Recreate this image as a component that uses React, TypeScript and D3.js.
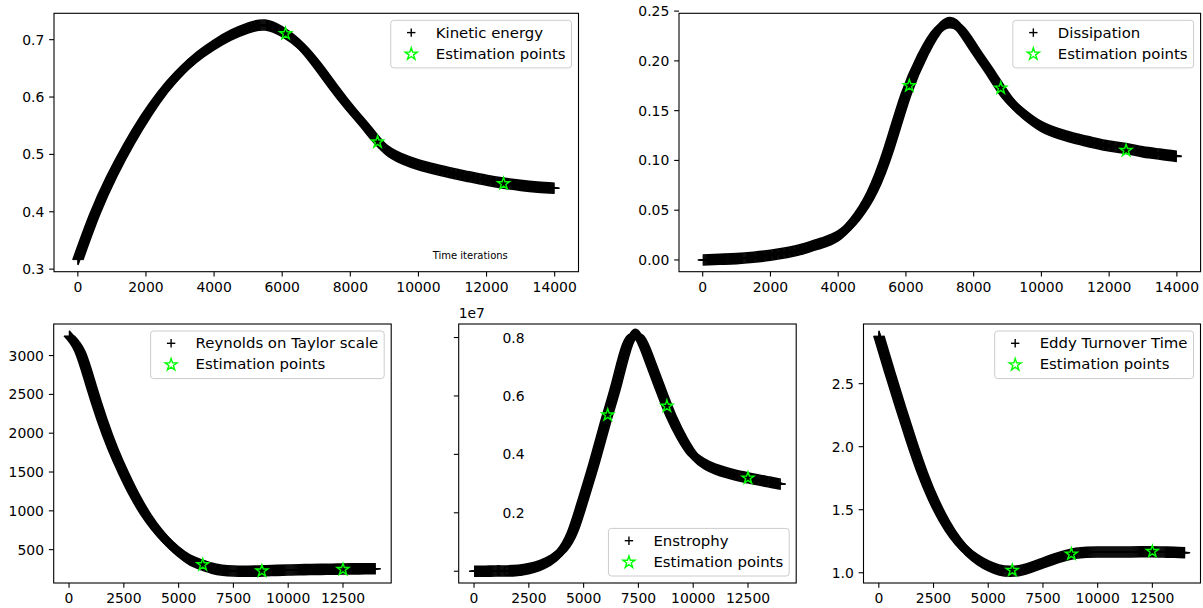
import React from 'react';
import * as d3 from 'd3';

// ---------------- data ----------------
const iterations = [
  0, 500, 1000, 1500, 2000, 2500, 3000, 3500, 4000, 4500, 5000, 5500, 6000, 6500, 7000,
  7500, 8000, 8500, 9000, 9500, 10000, 10500, 11000, 11500, 12000, 12500, 13000, 13500, 14000,
];
const kineticEnergy = [
  0.316, 0.396, 0.462, 0.518, 0.567, 0.609, 0.643, 0.67, 0.691, 0.708, 0.7205, 0.7255, 0.714, 0.692, 0.658,
  0.618, 0.58, 0.545, 0.511, 0.493, 0.482, 0.474, 0.467, 0.461, 0.455, 0.45, 0.446, 0.443, 0.441,
];
const dissipation = [
  0.0, 0.0007, 0.0013, 0.0027, 0.0047, 0.0074, 0.0115, 0.0169, 0.0243, 0.041, 0.068, 0.112, 0.166, 0.206, 0.233,
  0.236, 0.213, 0.188, 0.1626, 0.146, 0.134, 0.127, 0.122, 0.118, 0.1144, 0.112, 0.1086, 0.1063, 0.104,
];
const reynoldsTaylor = [
  3255, 3050, 2620, 2180, 1800, 1480, 1195, 955, 760, 600, 470, 370, 310, 262, 235,
  225, 222, 223, 228, 233, 238, 241, 244, 246, 248, 250, 252, 253, 254,
];
const enstrophy = [
  0, 0, 1e4, 1e4, 3e4, 9e4, 2e5, 3.8e5, 7e5, 1.35e6, 2.5e6, 3.75e6, 5.1e6, 6.4e6, 7.75e6,
  8.06e6, 7.25e6, 6.25e6, 5.3e6, 4.55e6, 3.98e6, 3.68e6, 3.5e6, 3.38e6, 3.28e6, 3.2e6, 3.12e6, 3.05e6, 2.98e6,
];
const eddyTurnover = [
  2.88, 2.59, 2.31, 2.04, 1.79, 1.58, 1.41, 1.275, 1.175, 1.105, 1.055, 1.022, 1.012, 1.02, 1.045,
  1.077, 1.108, 1.135, 1.155, 1.163, 1.165, 1.165, 1.165, 1.165, 1.166, 1.166, 1.164, 1.162, 1.158,
];

const estimationIterations = [6100, 8800, 12500];
const kineticEnergyEstimates = [0.7105, 0.5216, 0.449];
const dissipationEstimates = [0.175, 0.1727, 0.11];
const reynoldsEstimates = [306, 225, 245];
const enstrophyEstimates = [5.35e6, 5.65e6, 3.19e6];
const eddyTurnoverEstimates = [1.019, 1.148, 1.169];

const xTicksTop = [0, 2000, 4000, 6000, 8000, 10000, 12000, 14000];
const xTicksBottom = [0, 2500, 5000, 7500, 10000, 12500];
const kineticTicks = [0.3, 0.4, 0.5, 0.6, 0.7];
const dissipationTicks = [0, 0.05, 0.1, 0.15, 0.2, 0.25];
const reynoldsTicks = [500, 1000, 1500, 2000, 2500, 3000];
const enstrophyTicks = [0, 2e6, 4e6, 6e6, 8e6];
const eddyTicks = [1.0, 1.5, 2.0, 2.5];

const estimationLabel = 'Estimation points';

// ---------------- layout ----------------
const W = 1203;
const H = 608;
const FONT = "'DejaVu Sans', sans-serif";
const TICK_FS = 13.9;
const LEG_FS = 14.9;
const TICK_LEN = 4.86;
const LIME = '#00ff00';

let measureCtx: CanvasRenderingContext2D | null = null;
function textWidth(t: string, fs: number) {
  if (typeof document === 'undefined') return t.length * fs * 0.55;
  if (!measureCtx) measureCtx = document.createElement('canvas').getContext('2d');
  if (!measureCtx) return t.length * fs * 0.55;
  measureCtx.font = `${fs}px 'DejaVu Sans'`;
  return measureCtx.measureText(t).width;
}

function starPath(cx: number, cy: number, R: number) {
  const pts: string[] = [];
  for (let k = 0; k < 10; k++) {
    const a = -Math.PI / 2 + (k * Math.PI) / 5;
    const r = k % 2 ? R * 0.381966 : R;
    pts.push(`${(cx + r * Math.cos(a)).toFixed(2)},${(cy + r * Math.sin(a)).toFixed(2)}`);
  }
  return 'M' + pts.join('L') + 'Z';
}

type Spec = {
  id: string;
  left: number;
  right: number;
  top: number;
  bottom: number;
  values: number[];
  estimates: number[];
  xTicks: number[];
  yTicks: number[];
  yFmt: (v: number) => string;
  label: string;
  legend: 'ur' | 'lr';
  yLabelX?: number;
  offsetText?: string;
  note?: boolean;
};

const specs: Spec[] = [
  {
    id: 'ke', left: 54, right: 578.5, top: 13.3, bottom: 271.7,
    values: kineticEnergy, estimates: kineticEnergyEstimates,
    xTicks: xTicksTop, yTicks: kineticTicks, yFmt: (v) => v.toFixed(1),
    label: 'Kinetic energy', legend: 'ur', note: true,
  },
  {
    id: 'diss', left: 679, right: 1200.6, top: 13.3, bottom: 271.7,
    values: dissipation, estimates: dissipationEstimates,
    xTicks: xTicksTop, yTicks: dissipationTicks, yFmt: (v) => v.toFixed(2),
    label: 'Dissipation', legend: 'ur',
  },
  {
    id: 're', left: 53.7, right: 391.2, top: 324, bottom: 583,
    values: reynoldsTaylor, estimates: reynoldsEstimates,
    xTicks: xTicksBottom, yTicks: reynoldsTicks, yFmt: (v) => String(v),
    label: 'Reynolds on Taylor scale', legend: 'ur',
  },
  {
    id: 'ens', left: 458.7, right: 796.2, top: 324, bottom: 583,
    values: enstrophy, estimates: enstrophyEstimates,
    xTicks: xTicksBottom, yTicks: enstrophyTicks, yFmt: (v) => (v / 1e7).toFixed(1),
    label: 'Enstrophy', legend: 'lr', yLabelX: 524.5, offsetText: '1e7',
  },
  {
    id: 'eddy', left: 863.5, right: 1200.5, top: 324, bottom: 583,
    values: eddyTurnover, estimates: eddyTurnoverEstimates,
    xTicks: xTicksBottom, yTicks: eddyTicks, yFmt: (v) => v.toFixed(1),
    label: 'Eddy Turnover Time', legend: 'ur',
  },
];

const offsets: [number, number][] = [];
for (let k = -5; k <= 5; k++) {
  offsets.push([k, 0]);
  offsets.push([0, k]);
}

function Panel({ s }: { s: Spec }) {
  const xExt = d3.extent(iterations) as [number, number];
  const xr = xExt[1] - xExt[0];
  const x = d3.scaleLinear().domain([xExt[0] - 0.05 * xr, xExt[1] + 0.05 * xr]).range([s.left, s.right]);
  const yExt = d3.extent(s.values.concat(s.estimates)) as [number, number];
  const yr = yExt[1] - yExt[0];
  const y = d3.scaleLinear().domain([yExt[0] - 0.05 * yr, yExt[1] + 0.05 * yr]).range([s.bottom, s.top]);

  const line = d3
    .line<number>()
    .x((_, i) => x(iterations[i]))
    .y((d) => y(d))
    .curve(d3.curveNatural);
  const pathD = line(s.values) || '';

  // legend
  const widest = Math.max(textWidth(s.label, LEG_FS), textWidth(estimationLabel, LEG_FS));
  const lw = 45 + widest + 6;
  const lh = 47.6;
  const lx = s.right - 7 - lw;
  const ly = s.legend === 'ur' ? s.top + 7 : s.bottom - 7 - lh;
  const row1 = ly + 12.3;
  const row2 = ly + 33.3;
  const mx = lx + 20.5;

  const yLabelX = s.yLabelX ?? s.left - TICK_LEN - 4.86;

  return (
    <g>
      <defs>
        <clipPath id={`clip-${s.id}`}>
          <rect x={s.left} y={s.top} width={s.right - s.left} height={s.bottom - s.top} />
        </clipPath>
      </defs>
      {/* ticks & labels */}
      <g fontFamily={FONT} fontSize={TICK_FS} fill="#000">
        {s.xTicks.map((t) => (
          <g key={`x${t}`}>
            <line x1={x(t)} x2={x(t)} y1={s.bottom} y2={s.bottom + TICK_LEN} stroke="#000" strokeWidth={1.1} />
            <text x={x(t)} y={s.bottom + 19.8} textAnchor="middle">
              {String(t)}
            </text>
          </g>
        ))}
        {s.yTicks.map((t) => (
          <g key={`y${t}`}>
            <line x1={s.left - TICK_LEN} x2={s.left} y1={y(t)} y2={y(t)} stroke="#000" strokeWidth={1.1} />
            <text x={yLabelX} y={y(t)} textAnchor="end" dominantBaseline="central">
              {s.yFmt(t)}
            </text>
          </g>
        ))}
        {s.offsetText && (
          <text x={s.left} y={s.top - 6} textAnchor="start">
            {s.offsetText}
          </text>
        )}
      </g>
      {/* data band made of '+' markers */}
      <g clipPath={`url(#clip-${s.id})`}>
        {offsets.map(([dx, dy], i) => (
          <path
            key={i}
            d={pathD}
            transform={`translate(${dx},${dy})`}
            fill="none"
            stroke="#000"
            strokeWidth={1.6}
          />
        ))}
        {estimationIterations.map((t, i) => (
          <path
            key={`s${i}`}
            d={starPath(x(t), y(s.estimates[i]), 6.3)}
            fill="none"
            stroke={LIME}
            strokeWidth={1.4}
            strokeLinejoin="miter"
          />
        ))}
      </g>
      {s.note && (
        <text x={432.7} y={258.8} fontFamily={FONT} fontSize={10} fill="#000">
          Time iterations
        </text>
      )}
      {/* spines */}
      <rect
        x={s.left}
        y={s.top}
        width={s.right - s.left}
        height={s.bottom - s.top}
        fill="none"
        stroke="#000"
        strokeWidth={1.1}
      />
      {/* legend */}
      <g>
        <rect x={lx} y={ly} width={lw} height={lh} rx={3} ry={3} fill="#fff" fillOpacity={0.8} stroke="#cccccc" strokeWidth={1} />
        <line x1={mx - 4.2} x2={mx + 4.2} y1={row1} y2={row1} stroke="#000" strokeWidth={1.4} />
        <line x1={mx} x2={mx} y1={row1 - 4.2} y2={row1 + 4.2} stroke="#000" strokeWidth={1.4} />
        <path d={starPath(mx, row2 + 0.5, 6.3)} fill="none" stroke={LIME} strokeWidth={1.4} />
        <text x={lx + 45} y={row1} dominantBaseline="central" fontFamily={FONT} fontSize={LEG_FS} fill="#000">
          {s.label}
        </text>
        <text x={lx + 45} y={row2} dominantBaseline="central" fontFamily={FONT} fontSize={LEG_FS} fill="#000">
          {estimationLabel}
        </text>
      </g>
    </g>
  );
}

export default function App() {
  return (
    <svg
      width={W}
      height={H}
      viewBox={`0 0 ${W} ${H}`}
      style={{ position: 'absolute', left: 0, top: 0, background: '#fff', display: 'block' }}
    >
      <rect x={0} y={0} width={W} height={H} fill="#fff" />
      {specs.map((s) => (
        <Panel key={s.id} s={s} />
      ))}
    </svg>
  );
}
